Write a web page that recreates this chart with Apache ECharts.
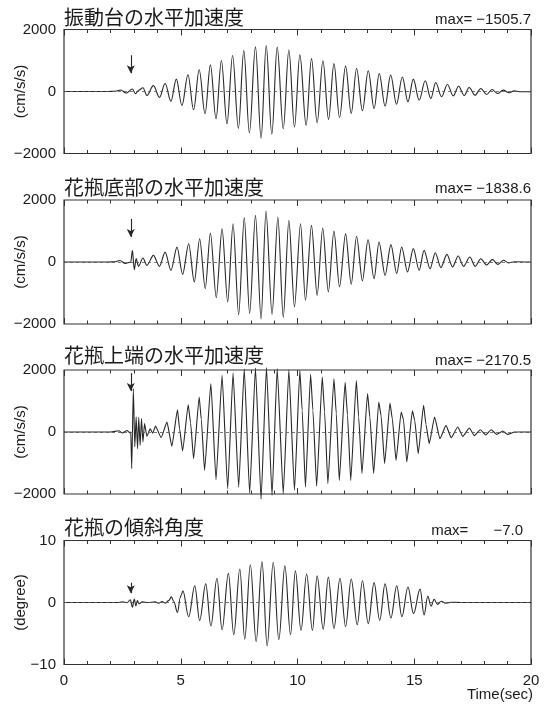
<!DOCTYPE html>
<html>
<head>
<meta charset="utf-8">
<script src="https://cdn.jsdelivr.net/npm/echarts@6/dist/echarts.min.js"></script>
<style>
  html, body { margin: 0; padding: 0; background: #ffffff; }
  #chart { width: 550px; height: 705px; }
</style>
</head>
<body>
<div id="chart"></div>
<script>
// 振動台 / 花瓶底部 / 花瓶上端 の加速度 (cm/s/s) と 花瓶の傾斜角度 (degree)
// 各点は [時刻(sec), 値] 、波形の山・谷を図から読み取ったもの
const tableAcc = [
  [0, 0], [1.9, 0], [2.2, 10], [2.43, 50], [2.66, -50], [2.93, 80], [3.06, -70], [3.2, 40],
  [3.38, 120], [3.55, -130], [3.83, 190], [4.09, -190], [4.33, 260], [4.58, -310],
  [4.81, 400], [5.05, -450], [5.31, 540], [5.55, -590], [5.79, 700], [6.04, -720],
  [6.27, 860], [6.51, -880], [6.74, 1000], [6.98, -1040], [7.22, 1160], [7.47, -1190],
  [7.70, 1320], [7.94, -1330], [8.20, 1440], [8.44, -1506], [8.66, 1480], [8.90, -1380],
  [9.13, 1430], [9.39, -1200], [9.63, 1340], [9.87, -1150], [10.10, 1180], [10.37, -1090],
  [10.60, 1060], [10.84, -1010], [11.09, 990], [11.33, -900], [11.56, 900], [11.80, -840],
  [12.06, 820], [12.30, -710], [12.53, 740], [12.78, -620], [13.03, 670], [13.28, -550],
  [13.50, 580], [13.75, -470], [13.99, 530], [14.24, -410], [14.49, 470], [14.73, -330],
  [14.96, 400], [15.21, -280], [15.47, 345], [15.71, -225], [15.92, 290], [16.17, -170],
  [16.42, 225], [16.67, -140], [16.90, 170], [17.14, -130], [17.35, 130], [17.60, -120],
  [17.85, 95], [18.10, -95], [18.33, 65], [18.57, -65], [18.81, 45], [19.07, -40],
  [19.28, 20], [19.5, -10], [20, -10]
]
const baseAcc = [
  [0, 0], [1.9, 0], [2.2, 10], [2.40, 50], [2.62, -50], [2.86, 0], [2.93, 375], [3.01, -250],
  [3.09, 110], [3.19, -140], [3.38, 130], [3.55, -110], [3.83, 215], [4.09, -140],
  [4.33, 320], [4.58, -270], [4.84, 480], [5.08, -400], [5.34, 590], [5.58, -645],
  [5.81, 750], [6.05, -860], [6.27, 935], [6.52, -1150], [6.77, 1075], [7.01, -1290],
  [7.24, 1235], [7.48, -1700], [7.72, 1430], [7.95, -1665], [8.20, 1505], [8.44, -1839],
  [8.65, 1645], [8.91, -1690], [9.16, 1450], [9.39, -1790], [9.63, 1345], [9.87, -1450],
  [10.13, 1235], [10.34, -1235], [10.60, 1180], [10.84, -1075], [11.08, 1095], [11.32, -970],
  [11.56, 1000], [11.80, -805], [12.06, 915], [12.30, -720], [12.53, 830], [12.78, -610],
  [13.02, 720], [13.28, -540], [13.49, 645], [13.75, -430], [14.00, 560], [14.25, -375],
  [14.46, 485], [14.71, -320], [14.96, 430], [15.21, -270], [15.42, 375], [15.68, -215],
  [15.90, 300], [16.14, -180], [16.40, 245], [16.64, -160], [16.88, 195], [17.11, -140],
  [17.38, 160], [17.61, -140], [17.85, 105], [18.10, -95], [18.35, 85], [18.57, -75],
  [18.83, 55], [19.03, -30], [19.3, 10], [20, 0]
]
const topAcc = [
  [0, 0], [2.0, 0], [2.35, 40], [2.5, -30], [2.7, 50], [2.82, -30], [2.86, 0], [2.90, -1180],
  [2.97, 1400], [3.03, -480], [3.09, 480], [3.15, -540], [3.20, 470], [3.26, -430],
  [3.32, 430], [3.38, -320], [3.45, 270], [3.55, -140], [3.69, 100], [3.80, -40],
  [3.92, 190], [4.16, -180], [4.41, 320], [4.62, -460], [4.86, 720], [4.95, 100],
  [5.08, -610], [5.32, 880], [5.42, 300], [5.55, -860], [5.79, 1130], [5.88, 400],
  [6.02, -1240], [6.29, 1560], [6.51, -1540], [6.77, 1830], [7.01, -1830], [7.24, 1900],
  [7.48, -1775], [7.72, 2040], [7.95, -1970], [8.20, 2060], [8.44, -2170], [8.67, 2080],
  [8.91, -2040], [9.13, 2050], [9.39, -1990], [9.63, 2010], [9.87, -1880], [10.10, 1980],
  [10.20, 700], [10.34, -1775], [10.56, 1860], [10.66, 700], [10.82, -1750], [11.06, 1775],
  [11.16, 650], [11.30, -1665], [11.56, 1720], [11.66, 600], [11.79, -1560], [12.04, 1600],
  [12.14, 550], [12.28, -1560], [12.52, 1660], [12.62, 480], [12.76, -1340], [13.00, 1240],
  [13.10, 480], [13.26, -1340], [13.48, 970], [13.58, 520], [13.73, -1020], [13.96, 935],
  [14.06, 430], [14.22, -915], [14.44, 645], [14.54, 400], [14.68, -970], [14.92, 680],
  [15.02, 380], [15.17, -700], [15.40, 860], [15.50, 250], [15.64, -375], [15.87, 485],
  [16.10, -215], [16.36, 215], [16.58, -185], [16.86, 160], [17.08, -140], [17.36, 130],
  [17.57, -120], [17.83, 75], [18.06, -95], [18.29, 75], [18.53, -75], [18.79, 30],
  [19.00, -75], [19.3, 0], [20, 0]
]
const tiltDeg = [
  [0, 0], [2.3, 0], [2.5, 0.1], [2.7, -0.05], [2.84, 0.45], [2.93, -0.75], [3.01, 0.55],
  [3.08, -0.55], [3.14, 0.3], [3.22, -0.2], [3.35, 0.1], [3.6, 0], [3.9, 0.1], [4.05, -0.1],
  [4.2, 0.15], [4.35, -0.1], [4.48, 0.3], [4.6, 0.9], [4.7, 0.2], [4.86, -1.6], [4.98, 0.8],
  [5.02, 1.2], [5.09, 1.9], [5.34, -2.3], [5.60, 2.7], [5.81, -2.9], [6.07, 3.0], [6.29, -3.8],
  [6.55, 3.9], [6.77, -4.4], [7.04, 4.7], [7.27, -5.2], [7.53, 5.4], [7.74, -5.9], [7.98, 6.1],
  [8.23, -6.3], [8.48, 6.6], [8.70, -7.0], [8.96, 6.5], [9.20, -6.0], [9.46, 5.9], [9.70, -5.2],
  [9.91, 5.1], [10.15, -4.5], [10.39, 4.6], [10.64, -4.5], [10.84, 4.3], [11.10, -4.3],
  [11.32, 4.1], [11.56, -4.2], [11.82, 3.9], [12.06, -3.9], [12.30, 3.8], [12.56, -3.6],
  [12.78, 3.5], [13.03, -3.4], [13.28, 3.2], [13.52, -2.9], [13.75, 3.0], [14.00, -2.5],
  [14.25, 2.7], [14.47, -2.3], [14.73, 2.5], [14.97, -1.8], [15.25, 2.15], [15.42, -2.0],
  [15.58, 1.0], [15.72, -0.6], [15.85, 0.5], [16.0, -0.3], [16.15, 0.2], [16.35, -0.1],
  [16.6, 0.05], [17, 0], [20, 0]
]

const panelTitles = ['振動台の水平加速度', '花瓶底部の水平加速度', '花瓶上端の水平加速度', '花瓶の傾斜角度']
const maxLabels = ['max= \u22121505.7', 'max= \u22121838.6', 'max= \u22122170.5', 'max=      \u22127.0']
const yNames = ['(cm/s/s)', '(cm/s/s)', '(cm/s/s)', '(degree)']
const yRanges = [[-2000, 2000], [-2000, 2000], [-2000, 2000], [-10, 10]]
// 矢印 (↓) の位置 [時刻, 上端値, 下端値]
const arrowMarks = [[2.86, 1170, 590], [2.86, 1390, 810], [2.86, 1900, 1320], [2.86, 3.2, 1.5]]
const xTicks = [0, 5, 10, 15, 20]

const seriesData = [tableAcc, baseAcc, topAcc, tiltDeg]

const gridTops = [29.5, 200, 370, 540.5]
const gridH = 124
const numFont = '"Liberation Sans", Arial, sans-serif'
const jpFont = '"Noto Sans CJK JP", sans-serif'
const ink = '#262626'

const chart = echarts.init(document.getElementById('chart'))

const grids = []
const xAxes = []
const yAxes = []
const series = []
const graphics = []

const minus = v => (v < 0 ? '\u2212' + (-v) : String(v))

for (let i = 0; i < 4; i++) {
  grids.push({
    left: 64, right: 19, top: gridTops[i], height: gridH,
    outerBoundsMode: 'none', containLabel: false,
    show: true, borderColor: '#333', borderWidth: 1.2, backgroundColor: 'transparent'
  })
  const xCommon = {
    type: 'value', gridIndex: i, min: xTicks[0], max: xTicks[xTicks.length - 1], interval: 5,
    axisLine: { show: false, onZero: false },
    axisTick: { show: true, inside: true, length: 6, lineStyle: { color: '#333', width: 1 } },
    minorTick: { show: true, splitNumber: 5, length: 3.5, lineStyle: { color: '#333', width: 1 } },
    splitLine: { show: false }
  }
  xAxes.push(Object.assign({}, xCommon, {
    position: 'bottom',
    axisLabel: {
      show: i === 3, color: '#1a1a1a', fontSize: 15, fontFamily: numFont, margin: 9
    }
  }))
  xAxes.push(Object.assign({}, xCommon, { position: 'top', axisLabel: { show: false } }))

  yAxes.push({
    type: 'value', gridIndex: i, position: 'left',
    min: yRanges[i][0], max: yRanges[i][1], interval: yRanges[i][1],
    axisLine: { show: false, onZero: false }, axisTick: { show: false }, splitLine: { show: false },
    axisLabel: {
      color: '#1a1a1a', fontSize: 15, fontFamily: numFont, margin: 8,
      formatter: minus
    },
    name: yNames[i], nameLocation: 'middle', nameGap: 36, nameRotate: 90,
    nameMoveOverlap: false,
    nameTextStyle: { color: '#1a1a1a', fontSize: 15, fontFamily: numFont }
  })
  yAxes.push({
    type: 'value', gridIndex: i, position: 'right',
    min: yRanges[i][0], max: yRanges[i][1],
    axisLine: { show: false, onZero: false }, axisTick: { show: false }, splitLine: { show: false },
    axisLabel: { show: false }
  })

  const am = arrowMarks[i]
  series.push({
    type: 'line',
    xAxisIndex: 2 * i,
    yAxisIndex: 2 * i,
    data: seriesData[i],
    showSymbol: false,
    smooth: i === 2 ? 0.15 : (i === 1 ? 0.3 : 0.36),
    smoothMonotone: 'x',
    clip: i !== 2,
    lineStyle: { color: ink, width: 1.1 },
    silent: true,
    markLine: {
      silent: true,
      symbol: ['none', 'none'],
      label: { show: false },
      animation: false,
      data: [
        { yAxis: 0, lineStyle: { color: '#555', width: 0.8, type: [3, 3] } },
        [
          { coord: [am[0], am[1]], lineStyle: { color: ink, width: 1.1, type: 'solid' } },
          { coord: [am[0], am[2]], symbol: 'arrow', symbolSize: [6, 8] }
        ]
      ]
    }
  })

  const titleY = [17.5, 187.5, 355, 527.5][i]
  const maxY = [19.5, 189, 360.5, 531][i]
  const maxX = i === 3 ? 523 : 531
  graphics.push({
    type: 'text', x: 64, y: titleY,
    style: { text: panelTitles[i], font: '20px ' + jpFont, fill: '#1a1a1a', align: 'left', verticalAlign: 'middle' }
  })
  graphics.push({
    type: 'text', x: maxX, y: maxY,
    style: { text: maxLabels[i], font: '15px ' + numFont, fill: '#1a1a1a', align: 'right', verticalAlign: 'middle' }
  })
}

graphics.push({
  type: 'text', x: 533, y: 695,
  style: { text: 'Time(sec)', font: '15px ' + numFont, fill: '#1a1a1a', align: 'right', verticalAlign: 'middle' }
})

chart.setOption({
  backgroundColor: '#ffffff',
  animation: false,
  grid: grids,
  xAxis: xAxes,
  yAxis: yAxes,
  series: series,
  graphic: graphics
})
</script>
</body>
</html>
